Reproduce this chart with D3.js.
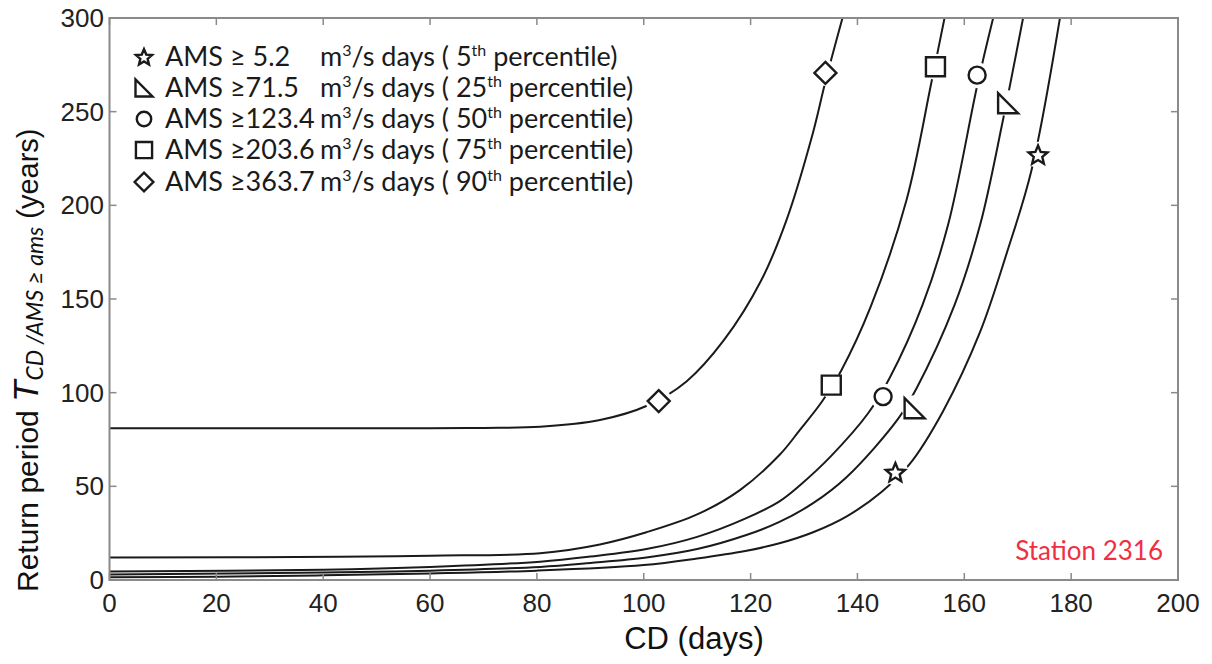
<!DOCTYPE html>
<html><head><meta charset="utf-8">
<script src="https://cdn.jsdelivr.net/npm/d3@7"></script>
<style>body{margin:0;background:#fff}svg{display:block}</style>
</head><body>
<svg id="c" width="1212" height="664"></svg>
<script>
// ---------- data ----------
const xTicks = [0,20,40,60,80,100,120,140,160,180,200];
const yTicks = [0,50,100,150,200,250,300];
const percentiles = ["5","25","50","75","90"];
const amsThresholds = ["5.2","71.5","123.4","203.6","363.7"];
const symbolNames = ["star","rtri","circle","square","diamond"];

const cd5  = [0,20,40,60,80,100,110,119,125.4,131.7,138,144.5,149.8,156,162.9,168,172.6,177.9];
const t5   = [1.5,1.8,2.5,3.5,5,8,11.5,15.5,19.6,25.5,34,47,62,90,132,175,219,300];
const cd25 = [0,40,60,80.6,90,100.5,110,119.2,125.4,131.7,138,147.6,151,158.2,163,167.2,171];
const t25  = [3,4,5,7,9.1,12,16.5,24,31,41,55,86,102,147,190,245,300];
const cd50 = [0,40,60,80.6,90,100.5,110,119.2,125.4,129.2,135,142,146,152.2,157,162.5,165.4];
const t50  = [4.5,5.5,7,9.8,12.5,16.5,23,33,42,50.5,66,89,107.7,147,190,265,300];
const cd75 = [0,43,60,80.6,91.8,100.5,110,118,125.4,129.2,133.3,137,142.5,149.2,153.8,156.3];
const t75  = [12,12.4,13,14.3,19,25.5,35,48,66.7,80,95,112,146,203,265,300];
const cd90 = [0,60,70,80.6,91.8,100.6,108,115,122,126.7,131.6,134,137.2];
const t90  = [81,81,81.2,81.8,85.4,93,106,128,160,192,238,266,300];

// marker positions (CD, T) per series
const mk5  = [[147.1,57.5],[173.8,227]];
const mk25 = [[150.7,91.7],[168.2,254.5]];
const mk50 = [[144.8,97.9],[162.4,269.5]];
const mk75 = [[135.1,104],[154.6,274]];
const mk90 = [[102.8,95.5],[134.0,270.7]];

const curvesCD = [cd5,cd25,cd50,cd75,cd90];
const curvesT  = [t5,t25,t50,t75,t90];
const markers  = [mk5,mk25,mk50,mk75,mk90];

// ---------- layout ----------
const svg = d3.select("#c");
const x = d3.scaleLinear().domain([0,200]).range([109.5,1178]);
const y = d3.scaleLinear().domain([0,300]).range([580,18]);
const axisCol = "#8a8a8a";

svg.append("defs").append("clipPath").attr("id","clip")
  .append("rect").attr("x",x(0)).attr("y",y(300)).attr("width",x(200)-x(0)).attr("height",y(0)-y(300));

// curves
const line = d3.line().x(d=>x(d[0])).y(d=>y(d[1])).curve(d3.curveCatmullRom.alpha(0.5));
const gCurves = svg.append("g").attr("clip-path","url(#clip)");
curvesCD.forEach((cds,i)=>{
  const pts = cds.map((c,j)=>[c,curvesT[i][j]]);
  gCurves.append("path").attr("d",line(pts)).attr("fill","none")
    .attr("stroke","#1a1a1a").attr("stroke-width",2);
});

// symbol shapes
function symPath(name, s){
  if(name==="star"){
    const pts=[];
    for(let k=0;k<10;k++){
      const r = k%2===0 ? s : s*0.45;
      const a = -Math.PI/2 + k*Math.PI/5;
      pts.push([r*Math.cos(a), r*Math.sin(a)+s*0.08]);
    }
    return "M"+pts.map(p=>p.join(",")).join("L")+"Z";
  }
  if(name==="rtri") return `M${-s},${-s}L${-s},${s}L${s},${s}Z`;
  if(name==="circle"){const p=d3.path();p.arc(0,0,s*0.85,0,2*Math.PI);return p.toString();}
  if(name==="square") return `M${-s*0.95},${-s*0.95}H${s*0.95}V${s*0.95}H${-s*0.95}Z`;
  if(name==="diamond") return `M0,${-s*1.1}L${s*1.1},0L0,${s*1.1}L${-s*1.1},0Z`;
}

// markers with white gap
const gMk = svg.append("g");
markers.forEach((mks,i)=>{
  mks.forEach(m=>{
    gMk.append("circle").attr("cx",x(m[0])).attr("cy",y(m[1])).attr("r",13).attr("fill","#fff");
  });
});
markers.forEach((mks,i)=>{
  mks.forEach(m=>{
    gMk.append("path").attr("d",symPath(symbolNames[i],10))
      .attr("transform",`translate(${x(m[0])},${y(m[1])})`)
      .attr("fill","#fff").attr("stroke","#1a1a1a").attr("stroke-width",2.4)
      .attr("stroke-linejoin","miter");
  });
});

// axes box and ticks
svg.append("rect").attr("x",x(0)).attr("y",y(300)).attr("width",x(200)-x(0)).attr("height",y(0)-y(300))
  .attr("fill","none").attr("stroke",axisCol).attr("stroke-width",2);
const tl = 7;
const gAx = svg.append("g").attr("stroke",axisCol).attr("stroke-width",1.5);
xTicks.forEach(t=>{
  gAx.append("line").attr("x1",x(t)).attr("x2",x(t)).attr("y1",y(0)).attr("y2",y(0)-tl);
  gAx.append("line").attr("x1",x(t)).attr("x2",x(t)).attr("y1",y(300)).attr("y2",y(300)+tl);
});
yTicks.forEach(t=>{
  gAx.append("line").attr("x1",x(0)).attr("x2",x(0)+tl).attr("y1",y(t)).attr("y2",y(t));
  gAx.append("line").attr("x1",x(200)).attr("x2",x(200)-tl).attr("y1",y(t)).attr("y2",y(t));
});
const tickFont = "'Liberation Sans', Arial, sans-serif";
svg.append("g").selectAll("text").data(xTicks).join("text")
  .attr("x",d=>x(d)).attr("y",612).attr("text-anchor","middle")
  .attr("font-family",tickFont).attr("font-size",26).attr("fill","#222").text(d=>d);
svg.append("g").selectAll("text").data(yTicks).join("text")
  .attr("x",104).attr("y",d=>y(d)+9).attr("text-anchor","end")
  .attr("font-family",tickFont).attr("font-size",26).attr("fill","#222").text(d=>d);

// x label
svg.append("text").attr("x",694).attr("y",649).attr("text-anchor","middle")
  .attr("font-family",tickFont).attr("font-size",31).attr("fill","#111").text("CD (days)");

// y label
const yl = svg.append("text").attr("transform","translate(38,592) rotate(-90)")
  .attr("font-family",tickFont).attr("font-size",30).attr("fill","#111");
yl.append("tspan").text("Return period ");
yl.append("tspan").attr("font-style","italic").attr("font-size",35).text("T");
yl.append("tspan").attr("font-style","italic").attr("font-family","Lato, 'Open Sans', sans-serif")
  .attr("font-size",23).attr("dy",5).text("CD /AMS \u2265 ams");
yl.append("tspan").attr("dy",-5).attr("font-size",29).text("  (years)");

// legend
const legFont = "Lato, 'Open Sans', sans-serif";
const legY = [57,88,119,150,182];
const gLeg = svg.append("g");
percentiles.forEach((p,i)=>{
  const cy = legY[i];
  gLeg.append("path").attr("d",symPath(symbolNames[i],8.5))
    .attr("transform",`translate(144,${cy})`).attr("fill","#fff")
    .attr("stroke","#1a1a1a").attr("stroke-width",2.4);
  const a = amsThresholds[i];
  gLeg.append("text").attr("x",165).attr("y",cy+9).attr("font-family",legFont)
    .attr("font-size",27).attr("fill","#1a1a1a")
    .text(a==="5.2" ? "AMS \u2265 "+a : "AMS \u2265"+a);
  const t = gLeg.append("text").attr("x",320).attr("y",cy+9).attr("font-family",legFont)
    .attr("font-size",27).attr("fill","#1a1a1a");
  t.append("tspan").text("m");
  t.append("tspan").attr("font-size",16).attr("dy",-10).text("3");
  t.append("tspan").attr("dy",10).text("/s days ( "+p);
  t.append("tspan").attr("font-size",16).attr("dy",-10).text("th");
  t.append("tspan").attr("dy",10).text(" percentile)");
});

// station label
svg.append("text").attr("x",1163).attr("y",560).attr("text-anchor","end")
  .attr("font-family",legFont).attr("font-size",26).attr("fill","#f0303f").text("Station 2316");
</script>
</body></html>
